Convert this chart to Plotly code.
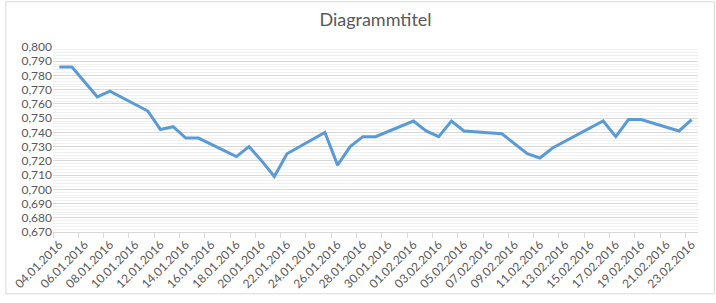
import plotly.graph_objects as go
from datetime import date, timedelta

dates = ["2016-01-04", "2016-01-05", "2016-01-07", "2016-01-08", "2016-01-11", "2016-01-12",
         "2016-01-13", "2016-01-14", "2016-01-15", "2016-01-18", "2016-01-19", "2016-01-20",
         "2016-01-21", "2016-01-22", "2016-01-25", "2016-01-26", "2016-01-27", "2016-01-28",
         "2016-01-29", "2016-02-01", "2016-02-02", "2016-02-03", "2016-02-04", "2016-02-05",
         "2016-02-08", "2016-02-10", "2016-02-11", "2016-02-12", "2016-02-16", "2016-02-17",
         "2016-02-18", "2016-02-19", "2016-02-22", "2016-02-23"]
values = [0.786, 0.786, 0.765, 0.769, 0.755, 0.742,
          0.744, 0.736, 0.736, 0.723, 0.730, 0.720,
          0.709, 0.725, 0.740, 0.717, 0.730, 0.737,
          0.737, 0.748, 0.741, 0.737, 0.748, 0.741,
          0.739, 0.725, 0.722, 0.729, 0.748, 0.737,
          0.749, 0.749, 0.741, 0.749]

start = date(2016, 1, 4)
tick_dates = [start + timedelta(days=2 * i) for i in range(26)]
tickvals = [d.isoformat() for d in tick_dates]
ticktext = [d.strftime("%d.%m.%Y") for d in tick_dates]

title = "Diagrammtitel"
gray = "#595959"
font = "Lato, 'Open Sans', sans-serif"

fig = go.Figure()
fig.add_trace(go.Scatter(x=dates, y=values, mode="lines",
                         line=dict(color="#5B9BD5", width=3)))

W, H = 716, 303
ml, mr, mt, mb = 48, 18, 47, 66
pw, ph = W - ml - mr, H - mt - mb

fig.update_layout(
    width=W, height=H,
    margin=dict(l=ml, r=mr, t=mt, b=mb),
    paper_bgcolor="white", plot_bgcolor="white",
    separators=",.",
    showlegend=False,
    title=dict(text=title, x=0.5, xref="paper", xanchor="center",
               y=1 - 20 / H, yanchor="middle",
               font=dict(family=font, size=18, color=gray)),
    font=dict(family=font, size=12, color=gray),
    xaxis=dict(
        type="date",
        range=["2016-01-03 12:00", "2016-02-23 12:00"],
        tickmode="array", tickvals=tickvals, ticktext=ticktext,
        tickangle=-45, ticks="", showgrid=False,
        showline=True, linecolor="#D9D9D9", linewidth=1,
        tickfont=dict(family=font, size=12, color=gray),
        minor=dict(ticks="outside", ticklen=5, tickcolor="#D9D9D9",
                   tick0="2016-01-03 12:00", dtick=2 * 86400000, showgrid=False),
        zeroline=False,
    ),
    yaxis=dict(
        range=[0.670, 0.800], dtick=0.01, tick0=0.670,
        tickformat=".3f",
        showgrid=True, gridcolor="#D9D9D9", gridwidth=1,
        minor=dict(dtick=0.002, showgrid=True, gridcolor="#F0F0F0", gridwidth=1),
        zeroline=False, showline=False, ticks="",
        tickfont=dict(family=font, size=12, color=gray),
    ),
    shapes=[dict(type="rect", xref="paper", yref="paper",
                 x0=(0.5 - ml) / pw, x1=(714.5 - ml) / pw,
                 y0=(H - mb - 300.5) / ph, y1=(H - mb - 0.5) / ph,
                 line=dict(color="#D9D9D9", width=1), fillcolor="rgba(0,0,0,0)",
                 layer="below")],
)

fig.write_html("out.html")
